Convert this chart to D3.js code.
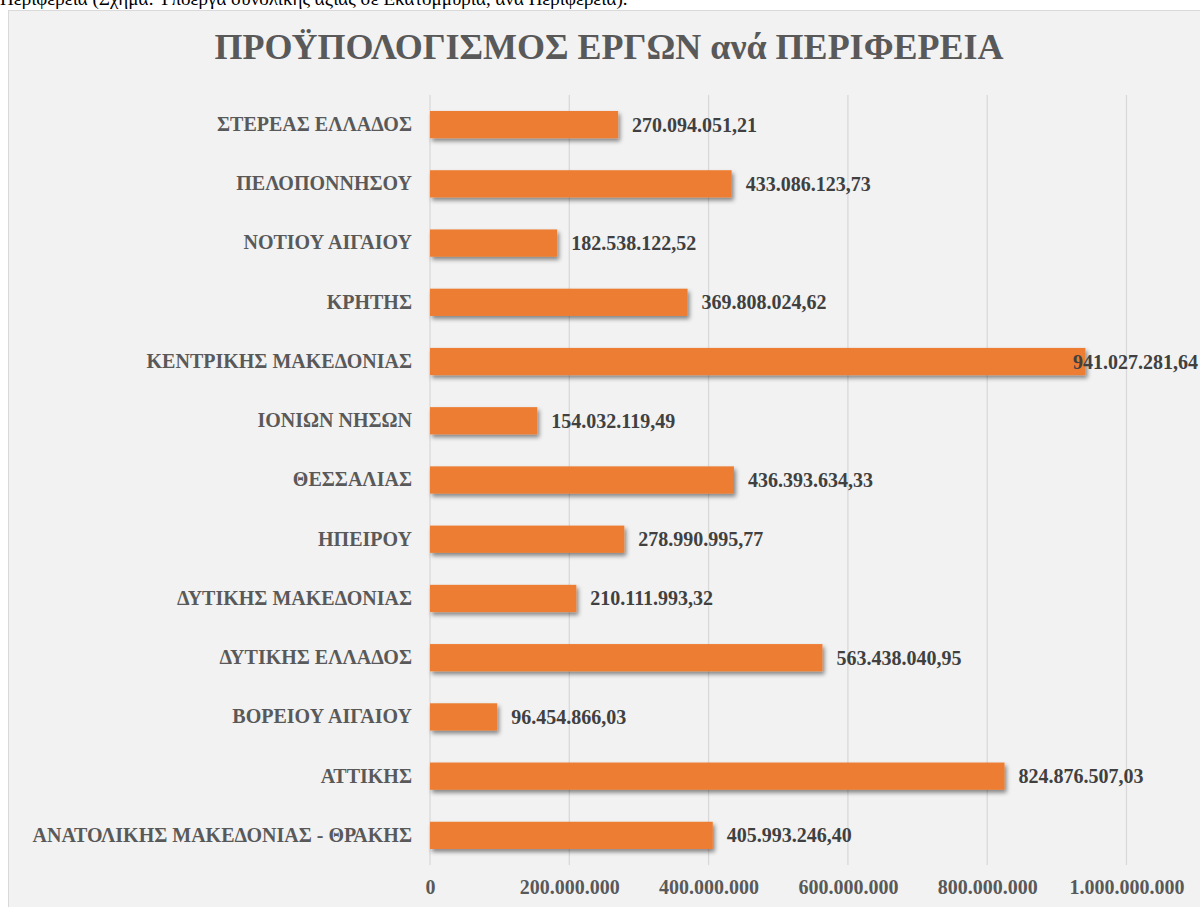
<!DOCTYPE html>
<html><head><meta charset="utf-8">
<script src="https://cdn.jsdelivr.net/npm/d3@7"></script>
<style>
html,body{margin:0;padding:0;background:#fff;overflow:hidden;}
svg{display:block;}
</style></head>
<body>
<svg id="chart" width="1200" height="907"></svg>
<script>
const categories = [
  "ΣΤΕΡΕΑΣ ΕΛΛΑΔΟΣ","ΠΕΛΟΠΟΝΝΗΣΟΥ","ΝΟΤΙΟΥ ΑΙΓΑΙΟΥ","ΚΡΗΤΗΣ","ΚΕΝΤΡΙΚΗΣ ΜΑΚΕΔΟΝΙΑΣ",
  "ΙΟΝΙΩΝ ΝΗΣΩΝ","ΘΕΣΣΑΛΙΑΣ","ΗΠΕΙΡΟΥ","ΔΥΤΙΚΗΣ ΜΑΚΕΔΟΝΙΑΣ","ΔΥΤΙΚΗΣ ΕΛΛΑΔΟΣ",
  "ΒΟΡΕΙΟΥ ΑΙΓΑΙΟΥ","ΑΤΤΙΚΗΣ","ΑΝΑΤΟΛΙΚΗΣ ΜΑΚΕΔΟΝΙΑΣ - ΘΡΑΚΗΣ"
];
const values = [
  270094051.21, 433086123.73, 182538122.52, 369808024.62, 941027281.64,
  154032119.49, 436393634.33, 278990995.77, 210111993.32, 563438040.95,
  96454866.03, 824876507.03, 405993246.40
];
const tickValues = [0, 200000000, 400000000, 600000000, 800000000, 1000000000];
const title = "ΠΡΟΫΠΟΛΟΓΙΣΜΟΣ ΕΡΓΩΝ ανά ΠΕΡΙΦΕΡΕΙΑ";
const caption = "Περιφέρεια (Σχήμα: Υποέργα συνολικής αξίας σε Εκατομμύρια, ανά Περιφέρεια).";

const loc = d3.formatLocale({decimal: ",", thousands: ".", grouping: [3], currency: ["", ""]});
const fmtVal = loc.format(",.2f");
const fmtTick = loc.format(",.0f");

const svg = d3.select("#chart");
const FONT = "'Liberation Serif','Times New Roman',serif";

const defs = svg.append("defs");
const f = defs.append("filter").attr("id","sh").attr("x","-5%").attr("y","-30%").attr("width","115%").attr("height","180%");
f.append("feDropShadow").attr("dx",2).attr("dy",3).attr("stdDeviation",2).attr("flood-color","#000").attr("flood-opacity",0.45);

// caption cut at top edge (as in the reference)
svg.append("text").attr("x", 0).attr("y", 5).attr("font-family", FONT).attr("font-size", 19)
  .attr("fill", "#000").text(caption);

// chart box
svg.append("rect").attr("x", 8.5).attr("y", 10.5).attr("width", 1250).attr("height", 950)
  .attr("fill", "#f2f2f2").attr("stroke", "#d9d9d9").attr("stroke-width", 1);

svg.append("text").attr("x", 609).attr("y", 59).attr("text-anchor","middle")
  .attr("font-family", FONT).attr("font-weight","bold").attr("font-size", 36)
  .attr("fill", "#595959").text(title);

const x = d3.scaleLinear().domain([0, 1000000000]).range([430, 1126.5]);
const y = d3.scaleBand().domain(categories).range([95, 865]).paddingInner(0.54).paddingOuter(0.27);

// gridlines
svg.append("g").selectAll("line").data(tickValues).join("line")
  .attr("x1", d => x(d)).attr("x2", d => x(d)).attr("y1", 95).attr("y2", 865)
  .attr("stroke", "#d9d9d9").attr("stroke-width", 1.3);

// x axis labels
const xAxis = d3.axisBottom(x).tickValues(tickValues).tickFormat(fmtTick).tickSize(0).tickPadding(0);
const gx = svg.append("g").attr("transform", "translate(0,880)").call(xAxis);
gx.select(".domain").remove();
gx.selectAll("text").attr("font-family", FONT).attr("font-weight","bold").attr("font-size", 20)
  .attr("fill", "#595959").attr("dy", "0.71em");

// y axis labels
const yAxis = d3.axisLeft(y).tickSize(0).tickPadding(0);
const gy = svg.append("g").attr("transform", "translate(412,0)").call(yAxis);
gy.select(".domain").remove();
gy.selectAll("text").attr("font-family", FONT).attr("font-weight","bold").attr("font-size", 20)
  .attr("fill", "#595959");

// bars
svg.append("g").selectAll("rect").data(categories).join("rect")
  .attr("x", x(0)).attr("y", (d) => y(d))
  .attr("width", (d, i) => x(values[i]) - x(0)).attr("height", y.bandwidth())
  .attr("fill", "#ed7d31").attr("filter", "url(#sh)");

// value labels
const fits = i => x(values[i]) + 14 + 128 <= 1198;
svg.append("g").selectAll("text").data(categories).join("text")
  .attr("x", (d, i) => fits(i) ? x(values[i]) + 14 : 1198)
  .attr("text-anchor", (d, i) => fits(i) ? "start" : "end")
  .attr("y", d => y(d) + y.bandwidth()/2).attr("dy", "0.35em")
  .attr("font-family", FONT).attr("font-weight","bold").attr("font-size", 20)
  .attr("fill", "#404040")
  .text((d, i) => fmtVal(values[i]));
</script>
</body></html>
